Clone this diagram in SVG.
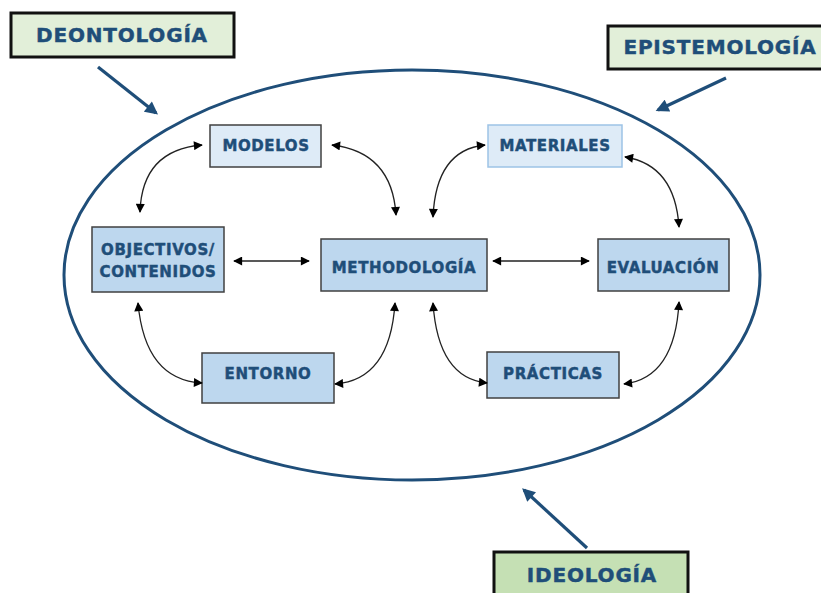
<svg xmlns="http://www.w3.org/2000/svg" width="821" height="593" viewBox="0 0 821 593">
<style>
.t{font-family:"DejaVu Sans",Verdana,sans-serif;font-weight:bold;fill:#1f4e79;stroke:#1f4e79;stroke-width:0.45;text-anchor:middle;dominant-baseline:central}
.n{font-size:15px;letter-spacing:0.6px}
.h{font-size:20px;letter-spacing:0.8px}
.dark{fill:#bdd7ee;stroke:#404040;stroke-width:1.5}
.light{fill:#deebf7;stroke:#404040;stroke-width:1.5}
.title{stroke:#111;stroke-width:3}
.c{fill:none;stroke:#222;stroke-width:1.3;marker-start:url(#a);marker-end:url(#a)}
.b{fill:none;stroke:#1f4e79;stroke-width:3.2;marker-end:url(#ba)}
</style>
<defs>
<marker id="a" viewBox="0 0 10 10" refX="9" refY="5" markerWidth="10" markerHeight="9" markerUnits="userSpaceOnUse" orient="auto-start-reverse"><path d="M0,0 L10,5 L0,10 Z" fill="#000"/></marker>
<marker id="ba" viewBox="0 0 10 10" refX="8" refY="5" markerWidth="14" markerHeight="13" markerUnits="userSpaceOnUse" orient="auto"><path d="M0,0 L10,5 L0,10 Z" fill="#1f4e79"/></marker>
</defs>
<rect width="821" height="593" fill="#fff"/>
<ellipse cx="412" cy="275" rx="348" ry="205" fill="none" stroke="#1f4e79" stroke-width="3"/>

<g id="deontologia"><rect class="title" x="11" y="13" width="223" height="44" fill="#e2efd9"/><text class="t h" x="122" y="35">DEONTOLOGÍA</text></g>
<g id="epistemologia"><rect class="title" x="608" y="26" width="220" height="43" fill="#e2efd9"/><text class="t h" x="720" y="47">EPISTEMOLOGÍA</text></g>
<g id="ideologia"><rect class="title" x="494" y="552" width="194" height="50" fill="#c5e0b4"/><text class="t h" x="592" y="575">IDEOLOGÍA</text></g>

<g id="modelos"><rect class="light" x="210" y="125" width="111" height="42"/><text class="t n" x="266" y="146">MODELOS</text></g>
<g id="materiales"><rect x="488" y="125" width="134" height="42" fill="#deebf7" stroke="#9dc3e6" stroke-width="1.5"/><text class="t n" x="555" y="146">MATERIALES</text></g>
<g id="objectivos"><rect class="dark" x="92" y="227" width="132" height="65"/><text class="t n" x="158" y="250">OBJECTIVOS/</text><text class="t n" x="158" y="272">CONTENIDOS</text></g>
<g id="methodologia"><rect class="dark" x="321" y="239" width="166" height="52"/><text class="t n" x="404" y="268">METHODOLOGÍA</text></g>
<g id="evaluacion"><rect class="dark" x="598" y="239" width="131" height="52"/><text class="t n" x="663" y="268">EVALUACIÓN</text></g>
<g id="entorno"><rect class="dark" x="202" y="353" width="132" height="50"/><text class="t n" x="268" y="374">ENTORNO</text></g>
<g id="practicas"><rect class="dark" x="487" y="352" width="132" height="46"/><text class="t n" x="553" y="374">PRÁCTICAS</text></g>

<g id="connectors">
<path class="b" d="M98,67 L156,113"/>
<path class="b" d="M726,78 L658,110"/>
<path class="b" d="M587,548 L524,490"/>
<path class="c" d="M234,261 L309,261"/>
<path class="c" d="M493,261 L589,261"/>
<path class="c" d="M202,145 Q142,150 140,212"/>
<path class="c" d="M332,145 Q392,152 396,215"/>
<path class="c" d="M485,145 Q436,150 433,217"/>
<path class="c" d="M625,157 Q675,165 679,227"/>
<path class="c" d="M138,303 Q145,380 202,383"/>
<path class="c" d="M395,303 Q390,380 335,384"/>
<path class="c" d="M433,303 Q438,378 487,383"/>
<path class="c" d="M679,302 Q675,378 624,384"/>
</g>
</svg>
